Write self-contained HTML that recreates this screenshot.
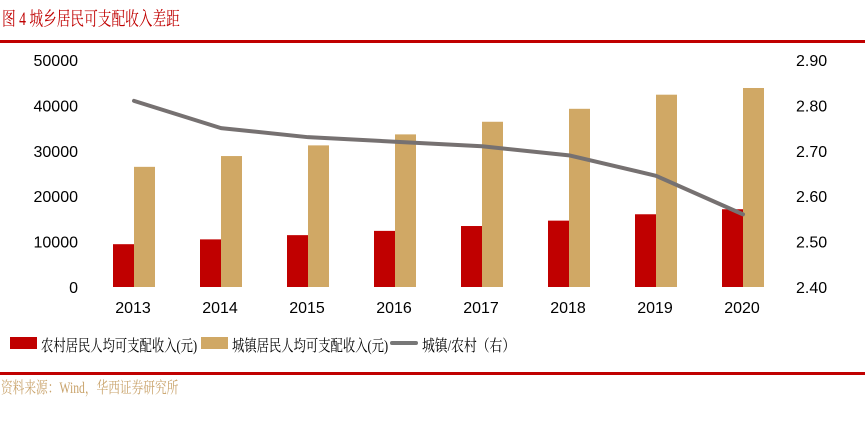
<!DOCTYPE html>
<html><head><meta charset="utf-8"><style>
body{margin:0;background:#fff;width:865px;height:425px;overflow:hidden;position:relative;font-family:"Liberation Serif","Noto Serif CJK SC",serif}
.t{position:absolute;white-space:nowrap;transform-origin:left top}
</style></head><body>
<div class="t" style="left:2px;top:4px;font-size:19px;color:#c00000;transform:scaleX(0.72)">图 4 城乡居民可支配收入差距</div>
<div style="position:absolute;left:0;top:40px;width:865px;height:3px;background:#c00000"></div>
<svg id="c" width="865" height="330" style="position:absolute;left:0;top:0"></svg>
<div style="position:absolute;left:0;top:372px;width:865px;height:3px;background:#c00000"></div>
<div class="t" style="left:1px;top:375px;font-size:16px;color:#c9a36b;transform:scaleX(0.73)">资料来源：Wind，华西证券研究所</div>
<div style="position:absolute;left:10px;top:337px;width:27px;height:12px;background:#c00000"></div>
<div class="t" style="left:41px;top:333px;font-size:16px;transform:scaleX(0.77)">农村居民人均可支配收入(元)</div>
<div style="position:absolute;left:201px;top:337px;width:27px;height:12px;background:#d0a865"></div>
<div class="t" style="left:232px;top:333px;font-size:16px;transform:scaleX(0.77)">城镇居民人均可支配收入(元)</div>
<div style="position:absolute;left:390px;top:341px;width:28px;height:4px;border-radius:2px;background:#777"></div>
<div class="t" style="left:422px;top:333px;font-size:16px;transform:scaleX(0.8)">城镇/农村（右）</div>
<script>
const years=["2013","2014","2015","2016","2017","2018","2019","2020"];
const rural=[9430,10489,11422,12363,13432,14617,16021,17131];
const urban=[26467,28844,31195,33616,36396,39251,42359,43834];
const ratio=[2.81,2.75,2.73,2.72,2.71,2.69,2.645,2.56];
const leftTicks=[0,10000,20000,30000,40000,50000];
const rightTicks=["2.40","2.50","2.60","2.70","2.80","2.90"];
const svg=document.getElementById('c'),NS='http://www.w3.org/2000/svg';
const y0=287,y1=60,x0=90.5,step=87;
const yL=v=>y0-(v/50000)*(y0-y1);
const yR=v=>y0-((v-2.4)/0.5)*(y0-y1);
const xc=i=>x0+step*(i+0.5);
function mk(tag,a){const e=document.createElementNS(NS,tag);for(const k in a)e.setAttribute(k,a[k]);svg.appendChild(e);return e;}
leftTicks.forEach(v=>{const t=mk('text',{x:78,y:yL(v)+6,'text-anchor':'end','font-size':16,'font-family':'Liberation Sans,sans-serif'});t.textContent=v;

});
rightTicks.forEach(v=>{const t=mk('text',{x:796,y:yR(+v)+6,'font-size':16,'font-family':'Liberation Sans,sans-serif'});t.textContent=v;

});
years.forEach((yr,i)=>{
const r=mk('rect',{x:xc(i)-21,y:yL(rural[i]),width:21,height:y0-yL(rural[i]),fill:'#c00000'});


const u=mk('rect',{x:xc(i),y:yL(urban[i]),width:21,height:y0-yL(urban[i]),fill:'#d0a865'});


const t=mk('text',{x:xc(i)-1,y:313,'text-anchor':'middle','font-size':16,'font-family':'Liberation Sans,sans-serif'});t.textContent=yr;


});
const p=mk('polyline',{points:ratio.map((v,i)=>xc(i)+','+yR(v)).join(' '),fill:'none',stroke:'#767171','stroke-width':4,'stroke-linejoin':'round','stroke-linecap':'round'});


</script>
</body></html>
